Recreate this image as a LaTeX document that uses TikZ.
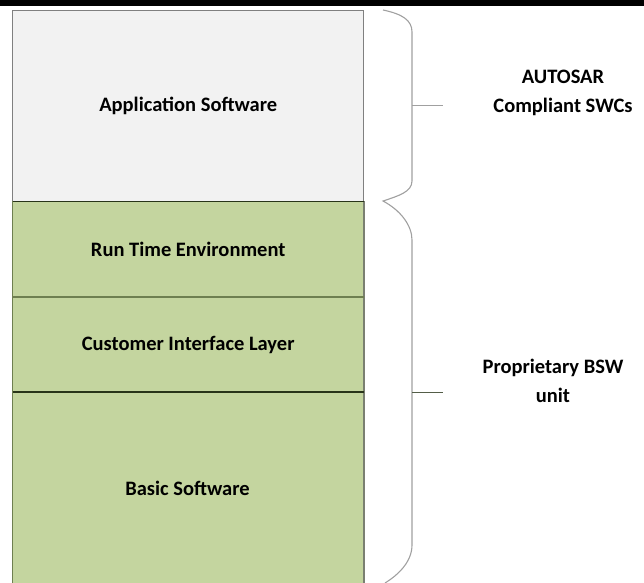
\documentclass[tikz,border=0pt]{standalone}
\usepackage{fontspec}
\setmainfont{Carlito}
\definecolor{appfill}{RGB}{242,242,242}
\definecolor{grn}{RGB}{196,213,159}
\definecolor{sepdark}{RGB}{40,52,25}
\definecolor{sepolive}{RGB}{110,127,80}
\definecolor{bracegray}{RGB}{160,160,160}
\tikzset{
  layer/.style={draw=none, minimum width=351pt, inner sep=0pt, anchor=north west},
  lbl/.style={font=\fontsize{20.5}{24}\selectfont\bfseries, text=black},
  sidelbl/.style={font=\fontsize{20.5}{28.5}\selectfont\bfseries, align=center, text=black},
  brace/.style={draw=bracegray, line width=1.1pt},
  tick/.style={draw=gray!80!black, line width=1pt}
}
\begin{document}
\begin{tikzpicture}[x=1pt,y=-1pt]
\useasboundingbox (0,0) rectangle (644,582);
\fill[black] (0,0) rectangle (644,5.5);
% layers
\node[layer, fill=appfill, minimum height=191pt] (app) at (12.5,10) {};
\node[layer, fill=grn, minimum height=96pt] (rte) at (12.5,201) {};
\node[layer, fill=grn, minimum height=95pt] (cil) at (12.5,297) {};
\node[layer, fill=grn, minimum height=195pt] (bsw) at (12.5,392) {};
\node[lbl] (tapp) at (app.center) {Application Software};
\node[lbl] (trte) at (rte.center) {Run Time Environment};
\node[lbl] (tcil) at (cil.center) {Customer Interface Layer};
\node[lbl] (tbsw) at (187.5,488) {Basic Software};
% borders
\draw[gray, line width=0.9pt] (app.south west) -- (app.north west) -- (app.north east) -- (app.south east);
\draw[sepolive, line width=1.2pt] (rte.north west) -- (bsw.south west);
\draw[gray!70!sepolive, line width=1.2pt] (rte.north east) -- (bsw.south east);
\draw[sepdark, line width=1pt] (app.south west) -- (app.south east);
\draw[sepolive, line width=1.8pt] (cil.north west) -- (cil.north east);
\draw[sepdark, line width=1.1pt] (bsw.north west) -- (bsw.north east);
% braces
\coordinate (b1t) at (383,10);
\coordinate (tip) at (383,201);
\coordinate (b2b) at (385,583);
\draw[brace] (b1t) .. controls (402,14) and (412,20) .. (412,32) -- (412,181)
  .. controls (412,192) and (398,196) .. (tip)
  .. controls (400,210) and (412,225) .. (412,240) -- (412,545)
  .. controls (412,562) and (398,575) .. (b2b);
\coordinate (m1) at (412,105);
\coordinate (e1) at (443,105);
\coordinate (m2) at (412,392);
\coordinate (e2) at (443,392);
\draw[tick, draw=bracegray] (m1) -- (e1);
\draw[tick, draw=sepdark!80] (m2) -- (e2);
\node[sidelbl] (autosar) at (563,93) {AUTOSAR\\Compliant SWCs};
\node[sidelbl] (prop) at (553,381) {Proprietary BSW\\unit};
\end{tikzpicture}
\end{document}
